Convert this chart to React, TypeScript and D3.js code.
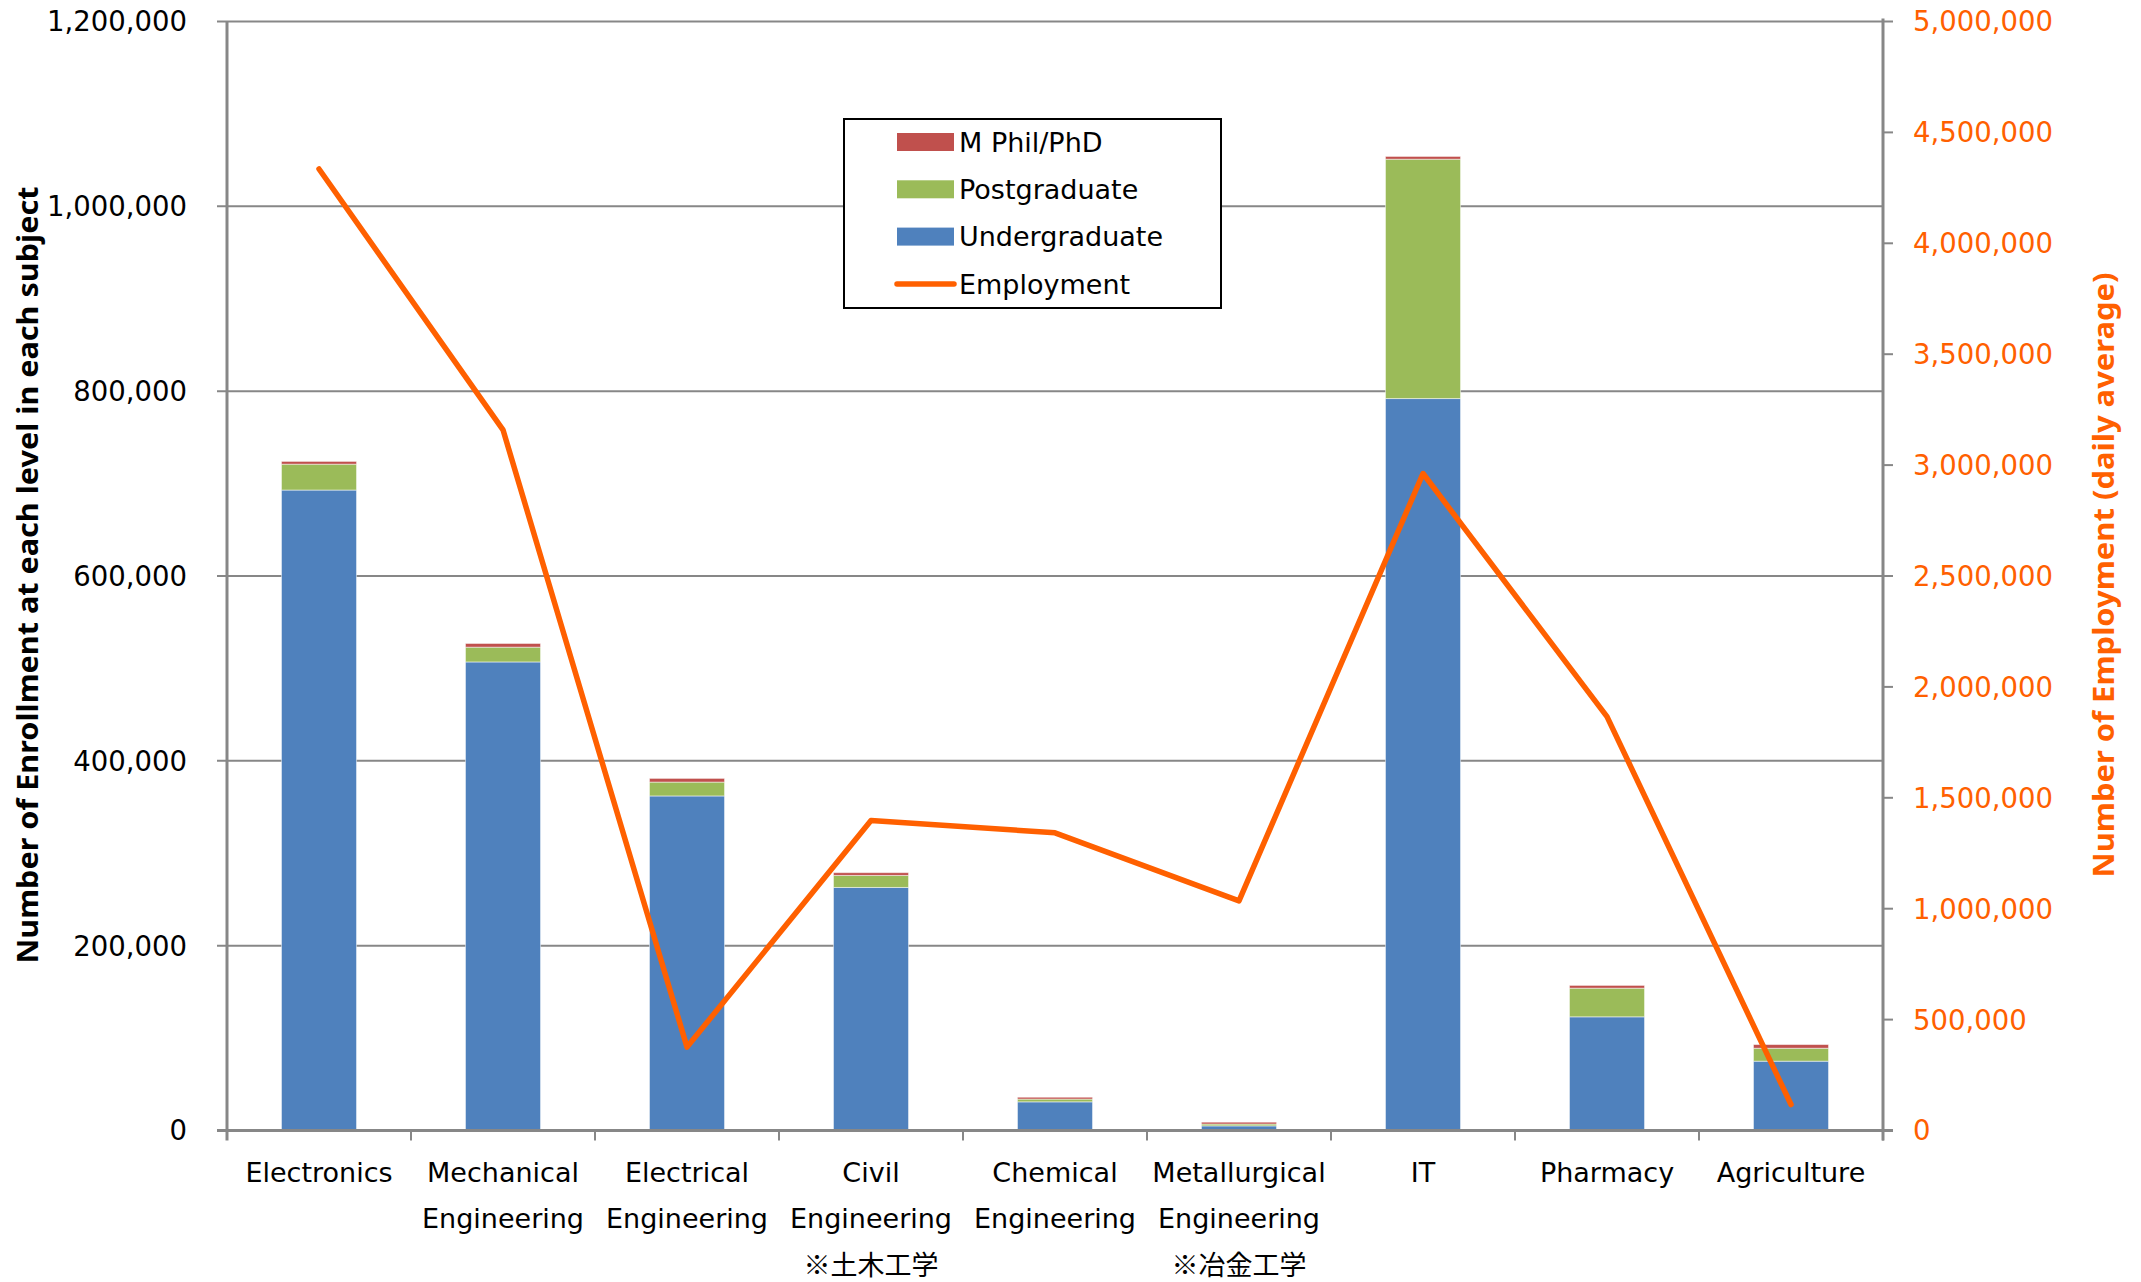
import React from "react";
import * as d3 from "d3";

const categories = [
  "Electronics",
  "Mechanical Engineering",
  "Electrical Engineering",
  "Civil Engineering",
  "Chemical Engineering",
  "Metallurgical Engineering",
  "IT",
  "Pharmacy",
  "Agriculture",
];
const categoryLines: string[][] = [
  ["Electronics"],
  ["Mechanical", "Engineering"],
  ["Electrical", "Engineering"],
  ["Civil", "Engineering", "※土木工学"],
  ["Chemical", "Engineering"],
  ["Metallurgical", "Engineering", "※冶金工学"],
  ["IT"],
  ["Pharmacy"],
  ["Agriculture"],
];
const undergraduate = [693000, 507000, 362000, 263000, 31000, 5000, 792000, 123000, 75000];
const postgraduate = [28000, 16000, 15000, 13000, 3000, 2000, 259000, 31000, 14000];
const mphilPhd = [3000, 4000, 4000, 3000, 2000, 2000, 3000, 3000, 4000];
const employment = [4335000, 3159000, 376000, 1398000, 1342000, 1035000, 2962000, 1866000, 117000];
const leftTicks = [0, 200000, 400000, 600000, 800000, 1000000, 1200000];
const rightTicks = [0, 500000, 1000000, 1500000, 2000000, 2500000, 3000000, 3500000, 4000000, 4500000, 5000000];
const seriesNames = ["Undergraduate", "Postgraduate", "M Phil/PhD"];
const seriesColors = ["#4F81BD", "#9BBB59", "#C0504D"];

const W = 2141;
const H = 1282;
const L = 227;
const R = 1883;
const T = 21.5;
const B = 1130.5;
const ORANGE = "#FF6000";
const GRID = "#878787";
const FONT = "'DejaVu Sans', Verdana, sans-serif";

export default function App() {
  const x = d3.scaleBand<string>().domain(categories).range([L, R]).paddingInner(0.592).paddingOuter(0.296);
  const xc = d3.scaleBand<string>().domain(categories).range([L, R]);
  const yL = d3.scaleLinear().domain([0, 1200000]).range([B, T]);
  const yR = d3.scaleLinear().domain([0, 5000000]).range([B, T]);

  const rows = categories.map((c, i) => ({
    cat: c,
    Undergraduate: undergraduate[i],
    Postgraduate: postgraduate[i],
    "M Phil/PhD": mphilPhd[i],
  }));
  const stacked = d3.stack<any>().keys(seriesNames)(rows);

  const line = d3
    .line<number>()
    .x((_, i) => (xc(categories[i]) as number) + xc.bandwidth() / 2)
    .y((d) => yR(d));

  const fmt = d3.format(",");

  const legendItems = [
    { name: "M Phil/PhD", color: "#C0504D", type: "rect" },
    { name: "Postgraduate", color: "#9BBB59", type: "rect" },
    { name: "Undergraduate", color: "#4F81BD", type: "rect" },
    { name: "Employment", color: ORANGE, type: "line" },
  ];

  return (
    <svg
      width={W}
      height={H}
      style={{ position: "absolute", left: 0, top: 0, background: "#fff" }}
      fontFamily={FONT}
    >
      <rect x={0} y={0} width={W} height={H} fill="#fff" />
      {/* gridlines */}
      {leftTicks.map((t) => (
        <line key={"g" + t} x1={L - 10} x2={R} y1={yL(t)} y2={yL(t)} stroke={GRID} strokeWidth={2} />
      ))}
      {/* bars */}
      {stacked.map((s, si) =>
        s.map((d, i) => (
          <rect
            key={si + "-" + i}
            x={x(categories[i])}
            width={x.bandwidth()}
            y={yL(d[1])}
            height={Math.max(0, yL(d[0]) - yL(d[1]))}
            fill={seriesColors[si]}
            stroke="#ffffff"
            strokeOpacity={0.5}
            strokeWidth={1}
          />
        ))
      )}
      {/* axes */}
      <line x1={L} x2={L} y1={T} y2={B + 10} stroke={GRID} strokeWidth={3} />
      <line x1={R} x2={R} y1={T - 3} y2={B + 10} stroke={GRID} strokeWidth={3} />
      <line x1={L - 10} x2={R + 10} y1={B} y2={B} stroke={GRID} strokeWidth={3} />
      {categories.map((c, i) => (
        <line
          key={"ct" + i}
          x1={(xc(c) as number) + xc.bandwidth()}
          x2={(xc(c) as number) + xc.bandwidth()}
          y1={B}
          y2={B + 10}
          stroke={GRID}
          strokeWidth={2}
        />
      ))}
      {rightTicks.map((t) => (
        <line key={"rt" + t} x1={R} x2={R + 10} y1={yR(t)} y2={yR(t)} stroke={GRID} strokeWidth={2} />
      ))}
      {/* left tick labels */}
      {leftTicks.map((t) => (
        <text key={"lt" + t} x={187} y={yL(t)} dy="0.36em" textAnchor="end" fontSize={27.5} fill="#000">
          {fmt(t)}
        </text>
      ))}
      {/* right tick labels */}
      {rightTicks.map((t) => (
        <text key={"rl" + t} x={1913} y={yR(t)} dy="0.36em" textAnchor="start" fontSize={27.5} fill={ORANGE}>
          {fmt(t)}
        </text>
      ))}
      {/* category labels */}
      {categoryLines.map((lines, i) => (
        <text
          key={"cl" + i}
          x={(xc(categories[i]) as number) + xc.bandwidth() / 2}
          textAnchor="middle"
          fontSize={27}
          fill="#000"
        >
          {lines.map((ln, j) => (
            <tspan
              key={j}
              x={(xc(categories[i]) as number) + xc.bandwidth() / 2}
              y={1181.5 + j * 46.7}
              fontFamily={ln.startsWith("※") ? "'Noto Sans CJK JP', sans-serif" : FONT}
            >
              {ln}
            </tspan>
          ))}
        </text>
      ))}
      {/* employment line */}
      <path
        d={line(employment) as string}
        fill="none"
        stroke={ORANGE}
        strokeWidth={5.5}
        strokeLinejoin="round"
        strokeLinecap="round"
      />
      {/* axis titles */}
      <text
        transform={`translate(38,575) rotate(-90)`}
        textAnchor="middle"
        fontFamily="'Noto Sans', sans-serif"
        fontWeight="bold"
        fontSize={29}
        textLength={777}
        lengthAdjust="spacingAndGlyphs"
        fill="#000"
      >
        Number of Enrollment at each level in each subject
      </text>
      <text
        transform={`translate(2114,575) rotate(-90)`}
        textAnchor="middle"
        fontFamily="'Noto Sans', sans-serif"
        fontWeight="bold"
        fontSize={29}
        textLength={605}
        lengthAdjust="spacingAndGlyphs"
        fill={ORANGE}
      >
        Number of Employment (daily average)
      </text>
      {/* legend */}
      <rect x={844} y={119} width={377} height={189} fill="#fff" stroke="#000" strokeWidth={2} />
      {legendItems.map((it, i) => {
        const cy = 142 + i * 47.3;
        return (
          <g key={it.name}>
            {it.type === "rect" ? (
              <rect x={897} y={cy - 9} width={57} height={18} fill={it.color} />
            ) : (
              <line x1={897} x2={954} y1={cy} y2={cy} stroke={it.color} strokeWidth={5.5} strokeLinecap="round" />
            )}
            <text x={959} y={cy} dy="0.36em" fontSize={27} fill="#000">
              {it.name}
            </text>
          </g>
        );
      })}
    </svg>
  );
}
